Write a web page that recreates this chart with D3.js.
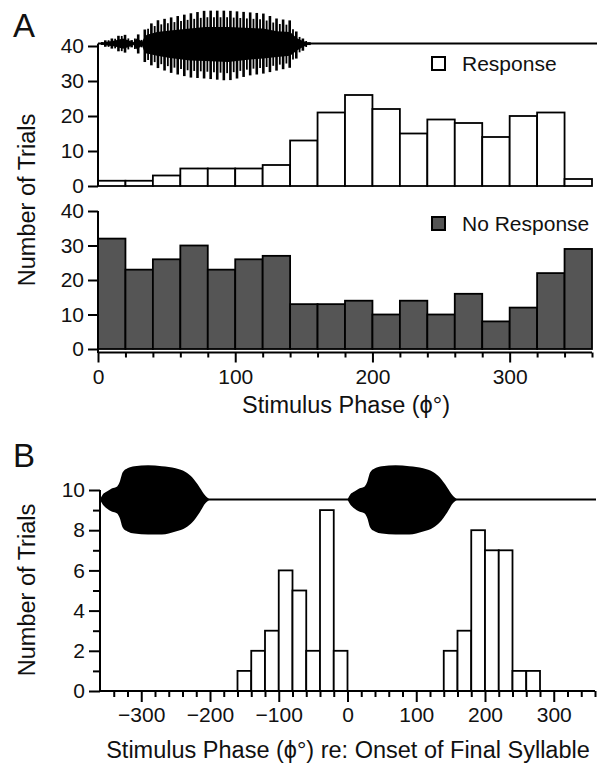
<!DOCTYPE html>
<html><head><meta charset="utf-8">
<script src="https://cdn.jsdelivr.net/npm/d3@7"></script>
<style>body{margin:0;background:#fff}svg{display:block}</style>
</head><body><svg id="c" width="602" height="768"></svg>
<script>
// ---------- data ----------
const binStartsA = [0,20,40,60,80,100,120,140,160,180,200,220,240,260,280,300,320,340];
const binWidth = 20;
const responseCounts   = [1.5,1.5,3,5,5,5,6,13,21,26,22,15,19,18,14,20,21,2];
const noResponseCounts = [32,23,26,30,23,26,27,13,13,14,10,14,10,16,8,12,22,29];
const binStartsB = [-160,-140,-120,-100,-80,-60,-40,-20,140,160,180,200,220,240,260];
const countsB    = [1,2,3,6,5,2,9,2,2,3,8,7,7,1,1];
const yTicksA = [0,10,20,30,40];
const xTicksA = [0,100,200,300];
const xTicksB = [-300,-200,-100,0,100,200,300];
const yTicksB = [0,2,4,6,8,10];
const legendLabels = ["Response","No Response"];
// oscillogram envelopes (phase in degrees, amplitude in axis units)
const waveAPhase = [0,5.1,12.4,18.2,22.6,25.5,28.4,32.1,34.3,35.7,43,52.5,67,78,94.8,110.8,120.3,130.5,140,145,149.4,154.5,159];
const waveAUp    = [0,0.9,1.7,2.9,1.7,0.6,3.1,1.1,4.3,5.1,6.6,7.4,8.6,9.4,9.4,8.9,8.6,7.1,6.6,3.1,1.4,0.3,0];
const waveADown  = [0,0.9,1.7,2.9,2.0,0.6,3.4,1.1,5.7,5.7,6.9,8.3,9.7,10,10.6,9.1,8.6,7.7,6.9,4.0,2.0,0.3,0];
const waveABase = 40.7;
const waveBPhase = [0,4,10,17,25,29,33,40,50,70,90,110,125,134,145,153,160];
const waveBUp    = [0,0.25,0.4,0.55,0.65,0.9,1.35,1.55,1.65,1.7,1.65,1.55,1.35,1.1,0.6,0.2,0];
const waveBDown  = [0,0.25,0.45,0.6,0.7,0.95,1.4,1.6,1.7,1.75,1.75,1.6,1.4,1.15,0.65,0.2,0];
const waveBOnsets = [-360,0];
const waveBBase = 9.53;

// ---------- scales ----------
const svg = d3.select("#c");
const FONT = "'Liberation Sans', Arial, Helvetica, sans-serif";
const xA = d3.scaleLinear().domain([0,360]).range([98,592]);
const yTop = d3.scaleLinear().domain([0,40]).range([186,46]);
const yMid = d3.scaleLinear().domain([0,40]).range([349,211]);
const xB = d3.scaleLinear().domain([-360,360]).range([100,595]);
const yB = d3.scaleLinear().domain([0,10]).range([691,490]);

function styleAxis(g){
  g.select(".domain").remove();
  g.selectAll("line").attr("stroke","#000").attr("stroke-width",2);
  g.selectAll("text").attr("font-family",FONT).attr("font-size",21).attr("fill","#111");
}

// ---------- oscillograms ----------
function drawWave(x, y, phase, up, down, base, onset, stripeStep){
  const upS = d3.scaleLinear().domain(phase).range(up).clamp(true);
  const dnS = d3.scaleLinear().domain(phase).range(down).clamp(true);
  const g = svg.append("g");
  const area = d3.area()
    .x(d=>x(onset+d.p)).y0(d=>y(base - d.d*d.f)).y1(d=>y(base + d.u*d.f));
  if(stripeStep){
    const core = phase.map((p,i)=>({p, u:up[i], d:down[i], f:0.5}));
    g.append("path").datum(core).attr("d",area).attr("fill","#000");
    const p0 = phase[0], p1 = phase[phase.length-1];
    d3.range(p0+0.5, p1, stripeStep).forEach((p,i)=>{
      const f = i%2===0 ? 1 : 0.8;
      g.append("line").attr("x1",x(onset+p)).attr("x2",x(onset+p))
        .attr("y1",y(base+upS(p)*f)).attr("y2",y(base-dnS(p)*f))
        .attr("stroke","#000").attr("stroke-width",i%2===0 ? 2.6 : 1.8);
    });
  } else {
    const full = phase.map((p,i)=>({p, u:up[i], d:down[i], f:1}));
    g.append("path").datum(full).attr("d",area.curve(d3.curveMonotoneX)).attr("fill","#000");
  }
}

svg.append("line").attr("x1",xA(0)).attr("x2",597).attr("y1",yTop(waveABase)).attr("y2",yTop(waveABase))
  .attr("stroke","#000").attr("stroke-width",2);
drawWave(xA, yTop, waveAPhase, waveAUp, waveADown, waveABase, 0, 2.4);

// ---------- top panel: Response ----------
svg.append("g").selectAll("rect").data(binStartsA).join("rect")
  .attr("x",d=>xA(d)).attr("width",d=>xA(d+binWidth)-xA(d))
  .attr("y",(d,i)=>yTop(responseCounts[i])).attr("height",(d,i)=>yTop(0)-yTop(responseCounts[i]))
  .attr("fill","#fff").attr("stroke","#000").attr("stroke-width",1.8);
svg.append("line").attr("x1",xA(0)).attr("x2",xA(0)).attr("y1",yTop(40)-2).attr("y2",yTop(0))
  .attr("stroke","#000").attr("stroke-width",2);
svg.append("g").attr("transform",`translate(${xA(0)},0)`)
  .call(d3.axisLeft(yTop).tickValues(yTicksA).tickSize(10).tickPadding(4)).call(styleAxis);

// ---------- middle panel: No Response ----------
svg.append("g").selectAll("rect").data(binStartsA).join("rect")
  .attr("x",d=>xA(d)).attr("width",d=>xA(d+binWidth)-xA(d))
  .attr("y",(d,i)=>yMid(noResponseCounts[i])).attr("height",(d,i)=>yMid(0)-yMid(noResponseCounts[i]))
  .attr("fill","#555").attr("stroke","#000").attr("stroke-width",1.8);
svg.append("line").attr("x1",xA(0)).attr("x2",xA(0)).attr("y1",yMid(40)).attr("y2",353)
  .attr("stroke","#000").attr("stroke-width",2);
svg.append("g").attr("transform",`translate(${xA(0)},0)`)
  .call(d3.axisLeft(yMid).tickValues(yTicksA).tickSize(10).tickPadding(4)).call(styleAxis);
svg.append("line").attr("x1",xA(0)).attr("x2",xA(360)).attr("y1",352.5).attr("y2",352.5)
  .attr("stroke","#000").attr("stroke-width",2);
svg.append("g").attr("transform","translate(0,352.5)")
  .call(d3.axisBottom(xA).tickValues(d3.range(20,361,20).filter(v=>v%100!==0)).tickSize(5).tickFormat(""))
  .call(styleAxis);
svg.append("g").attr("transform","translate(0,352.5)")
  .call(d3.axisBottom(xA).tickValues(xTicksA).tickSize(10).tickPadding(7))
  .call(styleAxis);
svg.append("text").attr("x",346).attr("y",413).attr("text-anchor","middle")
  .attr("font-family",FONT).attr("font-size",23.5).attr("fill","#111").text("Stimulus Phase (ϕ°)");
svg.append("text").attr("transform","translate(35,200) rotate(-90)").attr("text-anchor","middle")
  .attr("font-family",FONT).attr("font-size",23.5).attr("fill","#111").text("Number of Trials");

// legends
svg.append("rect").attr("x",432).attr("y",57).attr("width",13).attr("height",13)
  .attr("fill","#fff").attr("stroke","#000").attr("stroke-width",2);
svg.append("text").attr("x",462).attr("y",71).attr("font-family",FONT).attr("font-size",21).attr("fill","#111").text(legendLabels[0]);
svg.append("rect").attr("x",432).attr("y",217).attr("width",13).attr("height",13)
  .attr("fill","#555").attr("stroke","#000").attr("stroke-width",2);
svg.append("text").attr("x",462).attr("y",231).attr("font-family",FONT).attr("font-size",21).attr("fill","#111").text(legendLabels[1]);

// panel letters
svg.append("text").attr("x",13).attr("y",37).attr("font-family",FONT).attr("font-size",33).attr("fill","#111").text("A");
svg.append("text").attr("x",13).attr("y",467).attr("font-family",FONT).attr("font-size",33).attr("fill","#111").text("B");

// ---------- panel B ----------
svg.append("line").attr("x1",xB(-360)).attr("x2",596).attr("y1",yB(waveBBase)).attr("y2",yB(waveBBase))
  .attr("stroke","#000").attr("stroke-width",2);
waveBOnsets.forEach(o=>drawWave(xB, yB, waveBPhase, waveBUp, waveBDown, waveBBase, o, 0));

svg.append("g").selectAll("rect").data(binStartsB).join("rect")
  .attr("x",d=>xB(d)).attr("width",d=>xB(d+binWidth)-xB(d))
  .attr("y",(d,i)=>yB(countsB[i])).attr("height",(d,i)=>yB(0)-yB(countsB[i]))
  .attr("fill","#fff").attr("stroke","#000").attr("stroke-width",1.8);

svg.append("line").attr("x1",xB(-360)).attr("x2",xB(-360)).attr("y1",yB(10)).attr("y2",yB(0))
  .attr("stroke","#000").attr("stroke-width",2);
svg.append("line").attr("x1",xB(-360)).attr("x2",xB(360)).attr("y1",yB(0)).attr("y2",yB(0))
  .attr("stroke","#000").attr("stroke-width",2);
svg.append("g").attr("transform",`translate(${xB(-360)},0)`)
  .call(d3.axisLeft(yB).tickValues(d3.range(1,10,2)).tickSize(7).tickFormat("")).call(styleAxis);
svg.append("g").attr("transform",`translate(${xB(-360)},0)`)
  .call(d3.axisLeft(yB).tickValues(yTicksB).tickSize(11).tickPadding(4)).call(styleAxis);
svg.append("g").attr("transform",`translate(0,${yB(0)})`)
  .call(d3.axisBottom(xB).tickValues(d3.range(-340,361,20).filter(v=>v%100!==0)).tickSize(6).tickFormat(""))
  .call(styleAxis);
svg.append("g").attr("transform",`translate(0,${yB(0)})`)
  .call(d3.axisBottom(xB).tickValues(xTicksB).tickSize(11).tickPadding(5))
  .call(styleAxis);
svg.append("text").attr("x",348).attr("y",758).attr("text-anchor","middle")
  .attr("font-family",FONT).attr("font-size",23.5).attr("fill","#111").text("Stimulus Phase (ϕ°) re: Onset of Final Syllable");
svg.append("text").attr("transform","translate(35,590) rotate(-90)").attr("text-anchor","middle")
  .attr("font-family",FONT).attr("font-size",23.5).attr("fill","#111").text("Number of Trials");
</script>
</body></html>
